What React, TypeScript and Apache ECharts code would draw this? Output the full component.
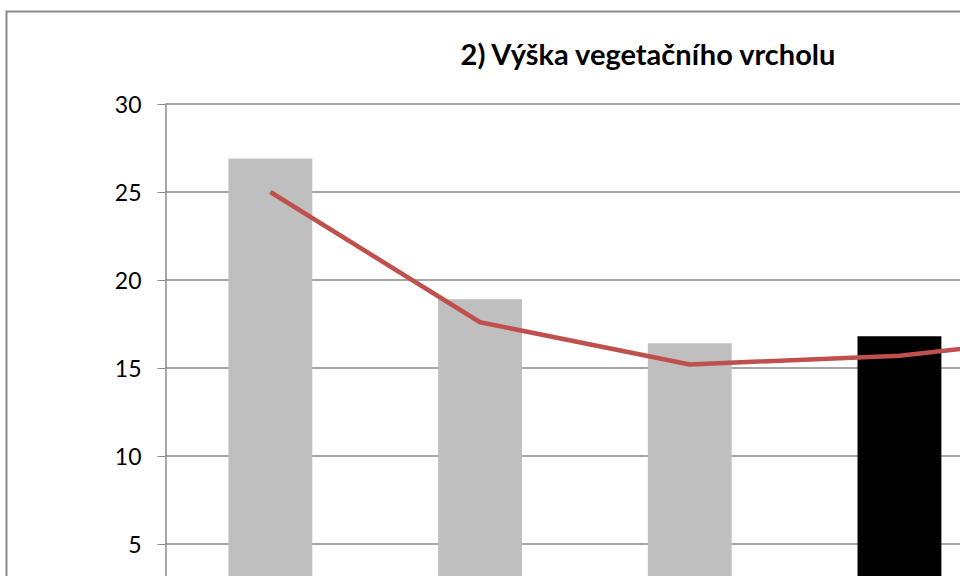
import React, { useEffect, useRef } from "react";
import * as echarts from "echarts";

const categories = ["1", "2", "3", "4", "5"];
const barValues = [26.9, 18.9, 16.4, 16.8, 18.0];
const lineValues = [25.0, 17.6, 15.2, 15.7, 17.0];
const barColors = ["#BFBFBF", "#BFBFBF", "#BFBFBF", "#000000", "#BFBFBF"];
const titleText = "2) Výška vegetačního vrcholu";

export default function App() {
  const ref = useRef<HTMLDivElement>(null);
  useEffect(() => {
    if (!ref.current) return;
    const chart = echarts.init(ref.current, null, { renderer: "svg" });
    chart.setOption({
      animation: false,
      backgroundColor: "#ffffff",
      title: {
        text: titleText,
        left: "center",
        top: 34,
        textStyle: { fontFamily: "Lato", fontWeight: "bold", fontSize: 29, color: "#000" },
      },
      graphic: [
        {
          type: "rect",
          shape: { x: 6.5, y: 11.5, width: 1280, height: 700 },
          style: { fill: "none", stroke: "#8a8a8a", lineWidth: 2 },
          silent: true,
        },
      ],
      grid: { left: 165.5, top: 104, right: 82, bottom: 88, containLabel: false },
      xAxis: {
        type: "category",
        data: categories,
        axisLine: { lineStyle: { color: "#8a8a8a" } },
        axisTick: { show: false },
        axisLabel: { show: false },
      },
      yAxis: {
        type: "value",
        min: 0,
        max: 30,
        interval: 5,
        axisLine: { show: true, lineStyle: { color: "#8a8a8a", width: 1.5 } },
        axisTick: { show: true, inside: false, length: 8, lineStyle: { color: "#8a8a8a" } },
        splitLine: { lineStyle: { color: "#8a8a8a", width: 1.5 } },
        axisLabel: { fontFamily: "Lato", fontSize: 23, color: "#000", margin: 24, showMinLabel: false },
      },
      series: [
        {
          type: "bar",
          data: barValues.map((v, i) => ({ value: v, itemStyle: { color: barColors[i] } })),
          barWidth: "40%",
        },
        {
          type: "line",
          data: lineValues,
          showSymbol: false,
          symbol: "none",
          lineStyle: { color: "#C0504D", width: 4.5 },
        },
      ],
    });
    return () => chart.dispose();
  }, []);
  return (
    <div style={{ position: "fixed", left: 0, top: 0, width: 960, height: 576, overflow: "hidden", background: "#fff" }}>
      <div ref={ref} style={{ width: 1296, height: 720 }} />
    </div>
  );
}
